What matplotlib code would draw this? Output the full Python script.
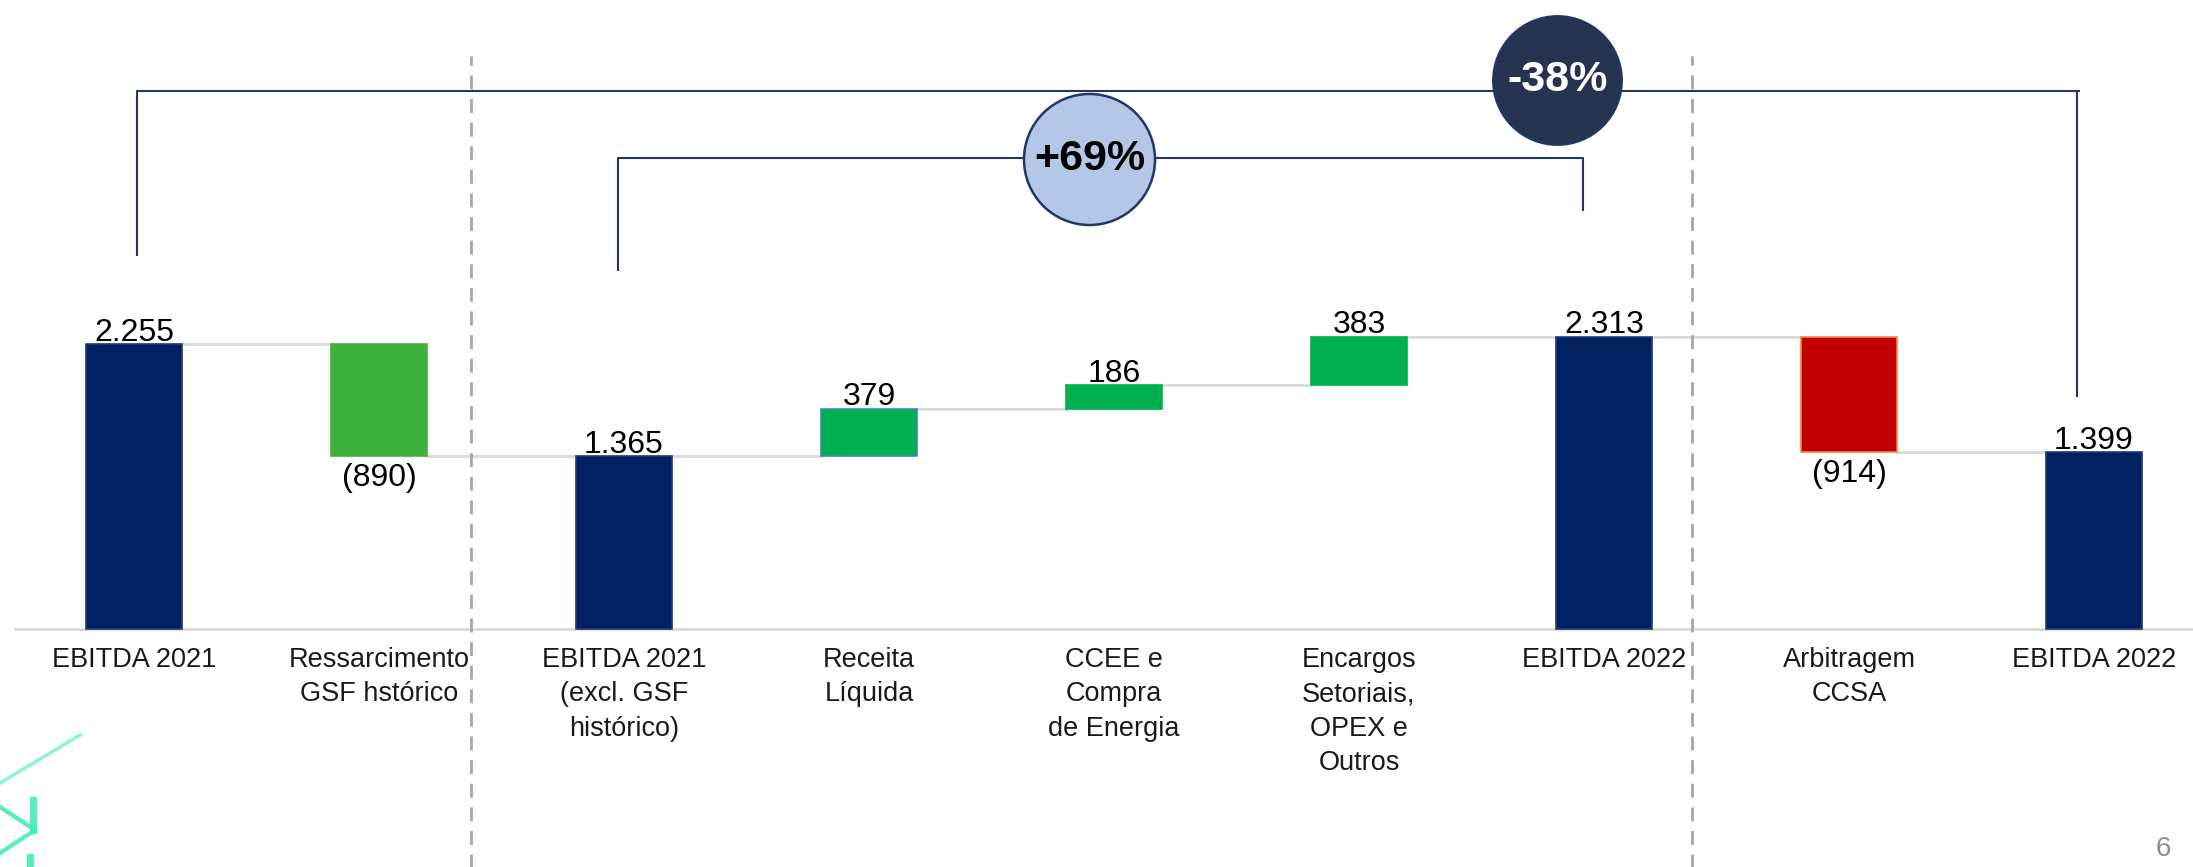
import matplotlib
matplotlib.use("Agg")
import matplotlib.pyplot as plt
from matplotlib.lines import Line2D

# ---------------- data ----------------
categories = ["EBITDA 2021", "Ressarcimento\nGSF hstórico", "EBITDA 2021\n(excl. GSF\nhistórico)",
              "Receita\nLíquida", "CCEE e\nCompra\nde Energia", "Encargos\nSetoriais,\nOPEX e\nOutros",
              "EBITDA 2022", "Arbitragem\nCCSA", "EBITDA 2022"]
values = [2255, -890, 1365, 379, 186, 383, 2313, -914, 1399]
is_total = [True, False, True, False, False, False, True, False, True]
value_labels = ["2.255", "(890)", "1.365", "379", "186", "383", "2.313", "(914)", "1.399"]
growth_labels = ["+69%", "-38%"]

# ---------------- style ----------------
FONT = ["Liberation Sans", "DejaVu Sans"]
plt.rcParams["font.family"] = FONT
NAVY = "#002060"
bar_colors = [NAVY, "#3DB33D", NAVY, "#00B050", "#00B050", "#00B050", NAVY, "#C00000", NAVY]
edge_colors = ["#1F3A78", "#3DB33D", "#1F3A78", "#3C8DB0", "#00B050", "#00B050", "#1F3A78", "#F08A3C", "#1F3A78"]
BAR_W = 0.39

W, H = 2193, 867
fig = plt.figure(figsize=(W / 100, H / 100), dpi=100)
ax = fig.add_axes([0, 0, 1, 1])
# axis mapping: bar 0 centre at 134 px, 245 px per bar, baseline 629 px from top
PX_PER_UNIT = 0.12639
ax.set_xlim(-134 / 245, (W - 134) / 245)
ax.set_ylim(-(H - 629) / PX_PER_UNIT, 629 / PX_PER_UNIT)
ax.axis("off")

# waterfall geometry
bottoms, heights, levels = [], [], []
running = 0
for v, tot in zip(values, is_total):
    if tot:
        bottoms.append(0)
        heights.append(v)
        running = v
    else:
        if v >= 0:
            bottoms.append(running)
            heights.append(v)
        else:
            bottoms.append(running + v)
            heights.append(-v)
        running += v
    levels.append(running)

xs = list(range(len(values)))

# baseline
ax.plot([-0.49, 8.45], [0, 0], color="#D9D9D9", lw=2, zorder=1, solid_capstyle="butt")

# connectors
for i in range(len(values) - 1):
    ax.plot([xs[i] + BAR_W / 2, xs[i + 1] - BAR_W / 2], [levels[i], levels[i]],
            color="#D9D9D9", lw=2, zorder=1)

ax.bar(xs, heights, bottom=bottoms, width=BAR_W, color=bar_colors,
       edgecolor=edge_colors, linewidth=1.2, zorder=3)

# value labels
for i, (v, lab) in enumerate(zip(values, value_labels)):
    top = bottoms[i] + heights[i]
    if v >= 0:
        ax.annotate(lab, (xs[i], top), xytext=(0, 2.5), textcoords="offset points",
                    ha="center", va="baseline", fontsize=23, color="black", zorder=5)
    else:
        ax.annotate(lab, (xs[i], bottoms[i]), xytext=(0, -5), textcoords="offset points",
                    ha="center", va="top", fontsize=23, color="black", zorder=5)

# category labels
for i, cat in enumerate(categories):
    ax.annotate(cat, (xs[i], 0), xytext=(0, -13), textcoords="offset points",
                ha="center", va="top", fontsize=19.5, color="#1a1a1a", linespacing=1.42)

# dashed separators
for xsep in [1.376, 6.359]:
    ax.plot([xsep, xsep], [-1900, 4534], color="#A6A6A6", lw=2, ls=(0, (5, 3.5)), zorder=2)

# brackets
LINE_C = "#1F3864"
# -38% bracket (EBITDA 2021 -> EBITDA 2022 final)
ax.plot([0.012, 0.012, 7.94], [2959, 4257, 4257], color=LINE_C, lw=1.5, zorder=4)
ax.plot([7.93, 7.93], [4257, 1843], color=LINE_C, lw=1.5, zorder=4)
# +69% bracket (EBITDA 2021 excl -> EBITDA 2022)
ax.plot([1.976, 1.976, 5.914, 5.914], [2840, 3727, 3727, 3315], color=LINE_C, lw=1.5, zorder=4)

# circles
ax.scatter([3.90], [3715], s=8900, facecolor="#B4C7E7", edgecolor=LINE_C, linewidth=1.8, zorder=6)
ax.text(3.90, 3715, growth_labels[0], ha="center", va="center", fontsize=31,
        fontweight="bold", color="black", zorder=7)
ax.scatter([5.81], [4344], s=8600, facecolor="#263350", edgecolor=LINE_C, linewidth=1.5, zorder=6)
ax.text(5.81, 4344, growth_labels[1], ha="center", va="center", fontsize=31,
        fontweight="bold", color="white", zorder=7)

# decorative neon lines (bottom-left)
def fx(px):
    return px / W

def fy(py):
    return 1 - py / H

NEON = "#3DF0B4"
for (x0, y0, x1, y1, lw, a) in [(0, 783, 80, 735, 2.5, 0.6), (0, 807, 35, 830, 3, 0.9),
                                 (35, 830, 0, 853, 3, 0.9)]:
    fig.add_artist(Line2D([fx(x0), fx(x1)], [fy(y0), fy(y1)], color=NEON, lw=lw, alpha=a))
fig.add_artist(Line2D([fx(33), fx(33)], [fy(800), fy(830)], color=NEON, lw=5, alpha=0.9))
fig.add_artist(Line2D([fx(30), fx(30)], [fy(857), fy(867)], color=NEON, lw=5, alpha=0.9))

# page number
fig.text(2163 / W, 1 - 836 / H, "6", ha="center", va="top", fontsize=20, color="#8C8C8C")

fig.savefig("out.png", dpi=100, facecolor="white")
